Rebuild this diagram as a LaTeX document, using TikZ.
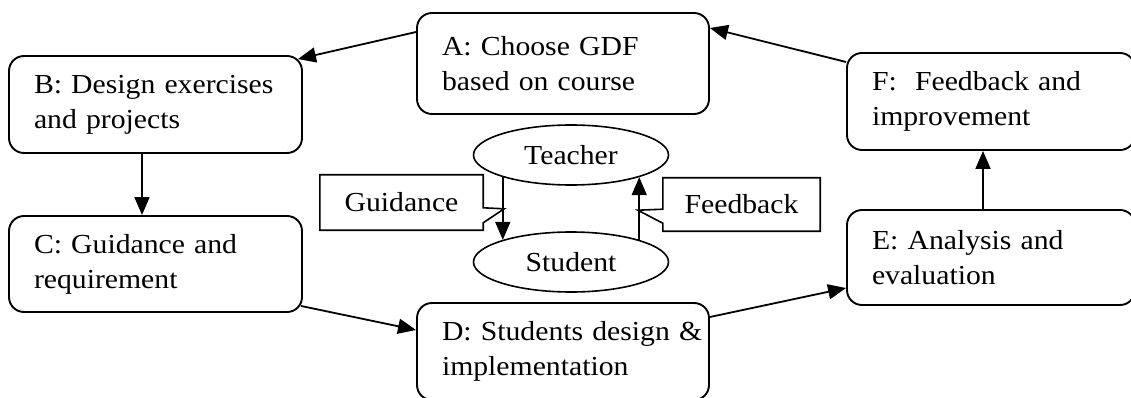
\documentclass[tikz,border=0pt]{standalone}
\usepackage{fontspec}
\setmainfont{Liberation Serif}[FakeStretch=1.08]
\usetikzlibrary{shapes.geometric,arrows.meta,calc}
\begin{document}
\begin{tikzpicture}[x=1pt,y=-1pt,
  font=\fontsize{27.5}{35}\selectfont,
  box/.style={draw, line width=1.9pt, rounded corners=15pt, align=left,
    inner xsep=25pt, inner ysep=0pt},
  ell/.style={draw, ellipse, line width=1.6pt, minimum width=195pt,
    minimum height=60pt, inner sep=0pt},
  callout/.style={draw=none, inner sep=0pt},
  calloutline/.style={line width=1.6pt, line join=miter},
  arr/.style={line width=1.8pt, -{Triangle[length=18pt,width=15pt]}}]
\useasboundingbox (0,0) rectangle (1131,398);

\node[box, text width=242pt, minimum height=101pt] (A) at (563,63.5) {\mbox{A: Choose GDF}\\\mbox{based on course}};
\node[box, text width=243pt, minimum height=97pt] (B) at (155.5,104.5) {\mbox{B: Design exercises}\\\mbox{and projects}};
\node[box, text width=243pt, minimum height=96pt] (C) at (155.5,264) {\mbox{C: Guidance and}\\\mbox{requirement}};
\node[box, text width=242pt, minimum height=97pt] (D) at (563,351.5) {\mbox{D: Students design \&}\\\mbox{implementation}};
\node[box, text width=238pt, minimum height=95pt] (E) at (991,257.5) {\mbox{E: Analysis and}\\\mbox{evaluation}};
\node[box, text width=238pt, minimum height=97pt] (F) at (991,101.5) {\mbox{F:~ Feedback and}\\\mbox{improvement}};

\draw[arr] ($(A.west)+(0,-31.5)$) -- ($(B.north east)+(-5,4)$);
\draw[arr] ($(F.west)+(0,-39.5)$) -- ($(A.east)+(0,-35.5)$);
\draw[arr] ($(B.south)+(-13.5,0)$) -- ($(C.north)+(-13.5,0)$);
\draw[arr] ($(C.south east)+(-2,-7)$) -- ($(D.west)+(0,-21.5)$);
\draw[arr] ($(D.east)+(0,-34.5)$) -- ($(E.west)+(0,30.5)$);
\draw[arr] ($(E.north)+(-8,0)$) -- ($(F.south)+(-8,0)$);

\node[ell] (T) at (571,155) {\raisebox{-3pt}{Teacher}};
\node[ell] (S) at (571,262) {\raisebox{-3pt}{Student}};
\draw[arr] (T.198) -- (T.198 |- S.162);
\draw[arr] (S.18) -- (S.18 |- T.342);

\node[callout, minimum width=163pt, minimum height=55pt] (G) at (401.5,202.5) {Guidance};
\draw[calloutline] (G.north west) -- (G.north east) -- ++(0,33) -- ++(21,1) -- ++(-21,14) -- (G.south east) -- (G.south west) -- cycle;

\node[callout, minimum width=157pt, minimum height=53pt] (Fb) at (741.5,204.5) {Feedback};
\draw[calloutline] (Fb.north west) -- (Fb.north east) -- (Fb.south east) -- (Fb.south west) -- ++(0,-8) -- ++(-25,-13) -- ++(25,-1) -- cycle;
\end{tikzpicture}
\end{document}
